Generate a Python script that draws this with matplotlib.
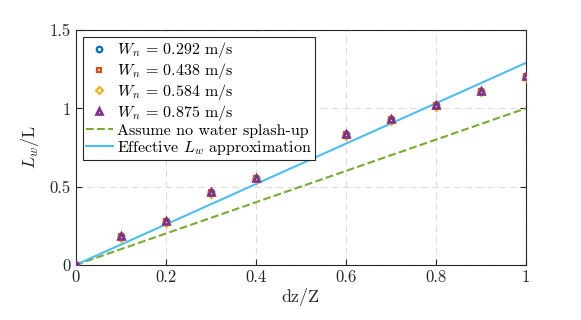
import matplotlib
matplotlib.use("Agg")
import matplotlib.pyplot as plt
import numpy as np

plt.rcParams['font.family'] = ['cmr10', 'DejaVu Serif']
plt.rcParams['mathtext.fontset'] = 'cm'
plt.rcParams['axes.formatter.use_mathtext'] = True

# measured points (dz/Z vs Lw/L) for each wave speed
dz = [0.0, 0.1, 0.2, 0.3, 0.4, 0.6, 0.7, 0.8, 0.9, 1.0]
lw_292 = [0.0, 0.185, 0.28, 0.465, 0.557, 0.836, 0.93, 1.02, 1.113, 1.207]
lw_438 = [0.0, 0.184, 0.279, 0.464, 0.556, 0.835, 0.929, 1.019, 1.112, 1.206]
lw_584 = [-0.01, 0.175, 0.27, 0.455, 0.547, 0.826, 0.92, 1.01, 1.103, 1.197]
lw_875 = [0.0, 0.185, 0.28, 0.465, 0.557, 0.836, 0.93, 1.02, 1.113, 1.207]
wn_labels = ['0.292', '0.438', '0.584', '0.875']

# reference lines
line_x = [0.0, 1.0]
no_splash = [0.0, 1.0]
effective = [0.0, 1.29]

colors = ['#0072BD', '#D95319', '#EDB120', '#7E2F8E']
markers = ['o', 's', 'D', '^']
sizes = [4, 3.5, 3.5, 4.8]

fig = plt.figure(figsize=(5.81, 3.2), dpi=100)
ax = fig.add_axes([0.130, 0.172, 0.775, 0.734])

series = [lw_292, lw_438, lw_584, lw_875]
for vals, c, m, s, lab in zip(series, colors, markers, sizes, wn_labels):
    ax.plot(dz, vals, linestyle='none', marker=m, markersize=s,
            markerfacecolor='white', markeredgecolor=c,
            markeredgewidth=1.6 if m != '^' else 1.9,
            label=r'$W_n$ = ' + lab + ' m/s', zorder=3)

ax.plot(line_x, no_splash, '--', color='#77AC30', lw=1.5,
        label='Assume no water splash-up', zorder=2)
ax.plot(line_x, effective, '-', color='#4DBEEE', lw=1.5,
        label=r'Effective $L_w$ approximation', zorder=2)

ax.set_xlim(0, 1)
ax.set_ylim(0, 1.5)
ax.set_xticks([0, 0.2, 0.4, 0.6, 0.8, 1])
ax.set_xticklabels(['0', '0.2', '0.4', '0.6', '0.8', '1'])
ax.set_yticks([0, 0.5, 1, 1.5])
ax.set_yticklabels(['0', '0.5', '1', '1.5'])
ax.tick_params(direction='in', labelsize=12, colors='#262626', length=4,
               top=False, right=True)
ax.grid(True, linestyle=(0, (6, 4)), color='#dcdcdc', lw=0.8)
ax.set_axisbelow(True)
for sp in ax.spines.values():
    sp.set_color('#262626')
    sp.set_linewidth(0.8)

ax.set_xlabel('dz/Z', fontsize=13, color='#262626', labelpad=2)
ax.set_ylabel(r'$L_w$/L', fontsize=13, color='#262626', labelpad=6)

leg = ax.legend(loc='upper left', fontsize=11.5, frameon=True, fancybox=False,
                edgecolor='#262626', framealpha=1, borderaxespad=0.45,
                handlelength=1.7, labelspacing=0.05, borderpad=0.2,
                handletextpad=0.25)
leg.get_frame().set_linewidth(0.8)

fig.savefig('out.png', dpi=100)
